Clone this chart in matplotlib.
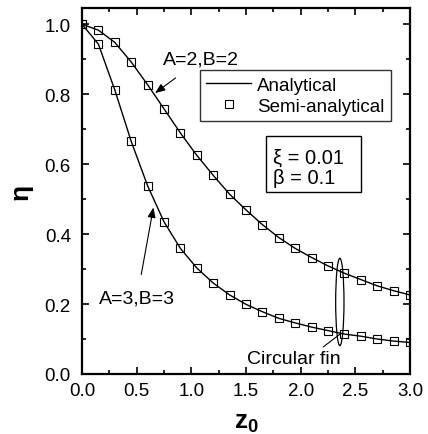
import matplotlib
matplotlib.use("Agg")
import matplotlib.pyplot as plt
from matplotlib.patches import Ellipse, Rectangle

plt.rcParams['font.family'] = ['Liberation Sans', 'DejaVu Sans']
plt.rcParams['mathtext.fontset'] = 'custom'
plt.rcParams['mathtext.rm'] = 'Liberation Sans'
plt.rcParams['mathtext.bf'] = 'Liberation Sans:bold'

z0 = [0.0, 0.15, 0.30, 0.45, 0.60, 0.75, 0.90, 1.05, 1.20, 1.35, 1.50,
      1.65, 1.80, 1.95, 2.10, 2.25, 2.40, 2.55, 2.70, 2.85, 3.00]
eta_A2B2 = [1.000, 0.983, 0.948, 0.892, 0.827, 0.758, 0.689, 0.625, 0.568, 0.514, 0.469,
            0.427, 0.390, 0.359, 0.333, 0.309, 0.288, 0.270, 0.252, 0.238, 0.226]
eta_A3B3 = [1.000, 0.943, 0.812, 0.665, 0.538, 0.435, 0.359, 0.303, 0.260, 0.226, 0.199,
            0.178, 0.159, 0.146, 0.134, 0.124, 0.114, 0.108, 0.100, 0.094, 0.090]

xticks = [0.0, 0.5, 1.0, 1.5, 2.0, 2.5, 3.0]
yticks = [0.0, 0.2, 0.4, 0.6, 0.8, 1.0]

fig = plt.figure(figsize=(4.28, 4.35), dpi=100)
ax = fig.add_axes([0.1916, 0.138, 0.7664, 0.841])

for eta in (eta_A2B2, eta_A3B3):
    ax.plot(z0, eta, '-', color='black', lw=1.0)
    ax.plot(z0, eta, 's', mfc='none', mec='black', ms=5.5, mew=0.8, color='black')

ax.plot([], [], '-', color='black', lw=1.0, label='Analytical')
ax.plot([], [], 's', mfc='none', mec='black', ms=5.5, mew=0.8, label='Semi-analytical')

ax.set_xlim(0, 3.0)
ax.set_ylim(0, 1.046)
ax.set_xticks(xticks)
ax.set_yticks(yticks)
ax.set_xticklabels([f"{v:.1f}" for v in xticks])
ax.set_yticklabels([f"{v:.1f}" for v in yticks])
ax.set_xticks([0.25, 0.75, 1.25, 1.75, 2.25, 2.75], minor=True)
ax.set_yticks([0.1, 0.3, 0.5, 0.7, 0.9], minor=True)
ax.tick_params(which='both', direction='in', top=True, right=True, labelsize=13.5, width=1.2)
ax.tick_params(which='major', length=5, pad=6)
ax.tick_params(axis='y', which='major', pad=8)
ax.tick_params(which='minor', length=3)
for s in ax.spines.values():
    s.set_linewidth(1.6)

ax.set_xlabel(r'$\mathbf{z_0}$', fontsize=19, labelpad=8)
ax.set_ylabel('η', fontsize=19, fontweight='bold', labelpad=9)

leg = ax.legend(loc='upper right', bbox_to_anchor=(0.942, 0.831), borderaxespad=0,
                fontsize=13.5, frameon=True, fancybox=False, edgecolor='black',
                handlelength=2.4, handletextpad=0.3, borderpad=0.35, labelspacing=0.2)
leg.get_frame().set_linewidth(1.0)

ax.add_patch(Rectangle((0.560, 0.4965), 0.2915, 0.1545, transform=ax.transAxes,
                       fill=False, ec='black', lw=1.0))
ax.text(0.582, 0.5655, 'ξ = 0.01\nβ = 0.1', transform=ax.transAxes, fontsize=14.5,
        ha='left', va='center', linespacing=1.1)

ax.annotate('A=2,B=2', xy=(0.668, 0.803), xytext=(0.74, 0.90), fontsize=14,
            ha='left', va='center',
            arrowprops=dict(arrowstyle='-|>,head_length=0.5,head_width=0.2', color='black',
                            lw=0.8, mutation_scale=12, shrinkA=9, shrinkB=0))
ax.annotate('A=3,B=3', xy=(0.653, 0.476), xytext=(0.155, 0.217), fontsize=14,
            ha='left', va='center',
            arrowprops=dict(arrowstyle='-|>,head_length=0.5,head_width=0.2', color='black',
                            lw=0.8, mutation_scale=12, shrinkA=9, shrinkB=0))

ax.add_patch(Ellipse((2.358, 0.206), 0.076, 0.25, fill=False, ec='black', lw=0.9))
ax.annotate('Circular fin', xy=(2.36, 0.114), xytext=(1.51, 0.045), fontsize=14,
            ha='left', va='center',
            arrowprops=dict(arrowstyle='-', color='black', lw=0.8, shrinkA=0, shrinkB=0,
                            relpos=(0.75, 0.9)))

fig.savefig('out.png', dpi=100)
